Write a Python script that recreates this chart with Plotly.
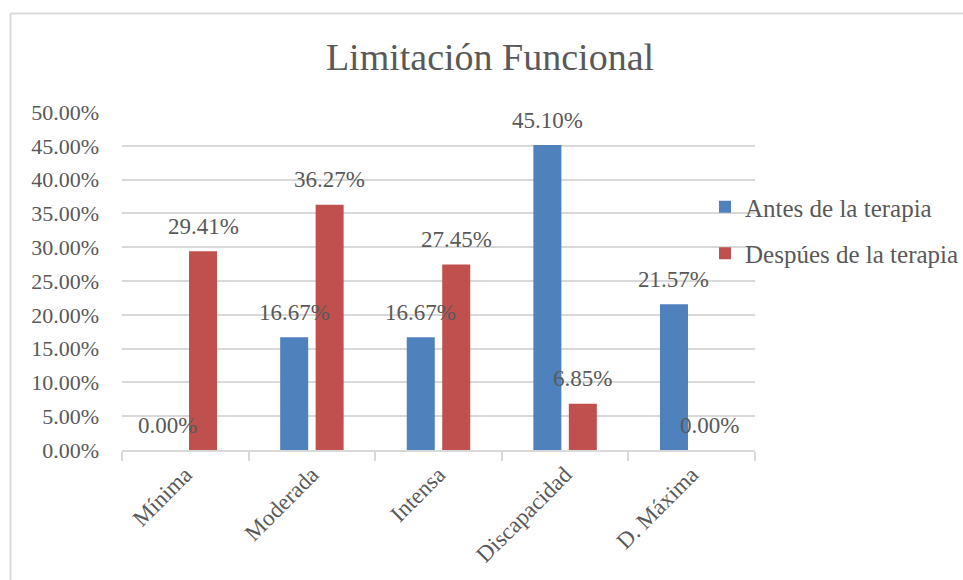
import plotly.graph_objects as go

categories = ["Mínima", "Moderada", "Intensa", "Discapacidad", "D. Máxima"]
antes = [0.0, 0.1667, 0.1667, 0.4510, 0.2157]
despues = [0.2941, 0.3627, 0.2745, 0.0685, 0.0]
series_names = ["Antes de la terapia", "Despúes de la terapia"]
colors = ["#4F81BD", "#C0504D"]
title_text = "Limitación Funcional"

FONT = "Liberation Serif"
GRAY = "#595959"

fig = go.Figure()
for i, (name, vals) in enumerate(zip(series_names, [antes, despues])):
    fig.add_trace(go.Bar(
        x=categories, y=vals, name=name,
        marker=dict(color=colors[i], line=dict(width=0)),
        legendgroup=f"g{i}",
    ))

annotations = []
for i, vals in enumerate([antes, despues]):
    shift = -17.8 if i == 0 else 17.8
    for c, v in zip(categories, vals):
        annotations.append(dict(
            x=c, y=v, xref="x", yref="y", text=f"{v*100:.2f}%",
            showarrow=False, xshift=shift, yshift=25,
            font=dict(family=FONT, size=23, color=GRAY),
        ))

W, H = 963, 580
L, R, T, B = 122, 963 - 755, 112, 580 - 450
pw, ph = W - L - R, H - T - B

def px(x):
    return (x - L) / pw

def py(y):
    return (H - B - y) / ph

shapes = [
    dict(type="line", xref="paper", yref="paper", x0=px(10.5), x1=px(10.5), y0=py(585), y1=py(13.5),
         line=dict(color="#D9D9D9", width=2)),
    dict(type="line", xref="paper", yref="paper", x0=px(10.5), x1=px(970), y0=py(13.5), y1=py(13.5),
         line=dict(color="#D9D9D9", width=2)),
]

fig.update_layout(
    width=W, height=H,
    margin=dict(l=L, r=R, t=T, b=B, autoexpand=False),
    paper_bgcolor="white", plot_bgcolor="white",
    title=dict(text=title_text, x=490 / W, xref="container", xanchor="center",
               y=1 - 57 / H, yref="container", yanchor="middle",
               font=dict(family=FONT, size=38, color=GRAY)),
    barmode="group", bargap=0.44, bargroupgap=0.21,
    legend=dict(x=px(705), y=py(230), xanchor="left", yanchor="middle",
                font=dict(family=FONT, size=25, color=GRAY),
                traceorder="grouped", tracegroupgap=11, bgcolor="rgba(0,0,0,0)"),
    annotations=annotations,
    shapes=shapes,
    showlegend=True,
)
fig.update_xaxes(
    type="category", showgrid=False, showline=True, linecolor="#D9D9D9", linewidth=2,
    ticks="outside", tickson="boundaries", ticklen=9, tickcolor="#D9D9D9", tickwidth=2,
    tickangle=-45, tickfont=dict(family=FONT, size=23, color=GRAY),
)
fig.update_yaxes(
    range=[0, 0.5], dtick=0.05, tickformat=".2%", showgrid=True, gridcolor="#D9D9D9",
    gridwidth=2, zeroline=False, showline=False, ticks="", ticklabelstandoff=22,
    tickfont=dict(family=FONT, size=22, color=GRAY),
)

fig.write_html("out.html")
